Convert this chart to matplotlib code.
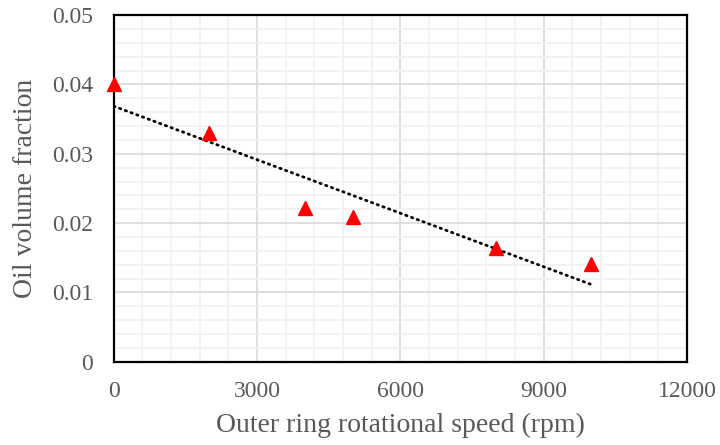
import numpy as np
import matplotlib.pyplot as plt
from matplotlib.ticker import MultipleLocator

speed = [0, 2000, 4000, 5000, 8000, 10000]
oil_fraction = [0.0400, 0.0330, 0.0222, 0.0209, 0.0164, 0.0141]

x_ticks = [0, 3000, 6000, 9000, 12000]
y_ticks = [0, 0.01, 0.02, 0.03, 0.04, 0.05]
y_tick_labels = ["0", "0.01", "0.02", "0.03", "0.04", "0.05"]

plt.rcParams['font.family'] = ['Liberation Serif', 'DejaVu Serif']
text_color = "#595959"

fig = plt.figure(figsize=(7.2, 4.45), dpi=100)
ax = fig.add_axes([0.158, 0.187, 0.796, 0.779])

# linear trendline
coef = np.polyfit(speed, oil_fraction, 1)
xt = np.array([min(speed), max(speed)])
ax.plot(xt, np.polyval(coef, xt), color="black", lw=2.0,
        linestyle=(0, (0.5, 1.7)), dash_capstyle="round", zorder=3)

ax.plot(speed, oil_fraction, linestyle="none", marker="^", markersize=9.5,
        color="#ff0000", clip_on=False, zorder=4)

ax.set_xlim(0, 12000)
ax.set_ylim(0, 0.05)
ax.set_xticks(x_ticks)
ax.set_yticks(y_ticks)
ax.set_yticklabels(y_tick_labels)
ax.xaxis.set_minor_locator(MultipleLocator(600))
ax.yaxis.set_minor_locator(MultipleLocator(0.002))
ax.grid(True, which="major", color="#d9d9d9", lw=1.2)
ax.grid(True, which="minor", color="#f0f0f0", lw=1.2)
ax.set_axisbelow(True)
ax.tick_params(which="both", length=0, labelsize=17, labelcolor=text_color)
ax.tick_params(axis="x", pad=14)
ax.tick_params(axis="y", pad=15)

for s in ax.spines.values():
    s.set_color("black")
    s.set_linewidth(1.6)

ax.set_xlabel("Outer ring rotational speed (rpm)", fontsize=20, color=text_color, labelpad=8)
ax.set_ylabel("Oil volume fraction", fontsize=20, color=text_color, labelpad=10)

fig.savefig("out.png", dpi=100)
